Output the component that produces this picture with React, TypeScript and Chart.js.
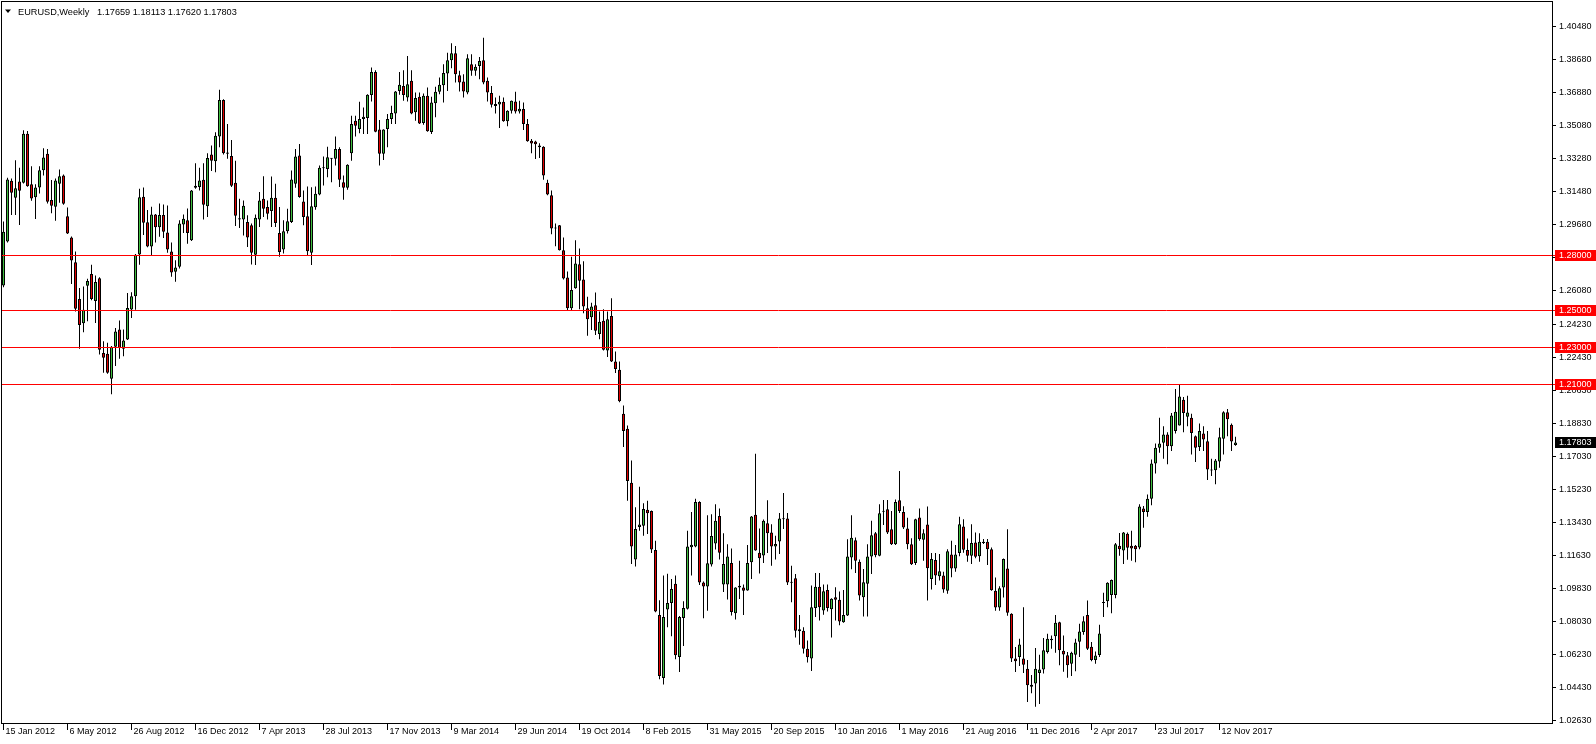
import React, { useEffect, useRef } from 'react';
import { Chart, registerables } from 'chart.js';

Chart.register(...registerables);

const SYMBOL = 'EURUSD';
const PERIOD = 'Weekly';

// Weekly candles, first candle = week of 15 Jan 2012 (index 0), last = week of 10 Dec 2017
const opens = [
  1.2635, 1.2874, 1.3205, 1.3113, 1.3202, 1.3194, 1.3462, 1.3187, 1.3115, 1.3169,
  1.3263, 1.3353, 1.3100, 1.3064, 1.3189, 1.3234, 1.3012, 1.2896, 1.2762, 1.2561,
  1.2429, 1.2634, 1.2697, 1.2550, 1.2675, 1.2268, 1.2263, 1.2127, 1.2301, 1.2395,
  1.2290, 1.2341, 1.2504, 1.2576, 1.2804, 1.3118, 1.2979, 1.2847, 1.3022, 1.2952,
  1.3019, 1.2923, 1.2820, 1.2710, 1.2737, 1.2967, 1.2990, 1.2881, 1.3167, 1.3171,
  1.3211, 1.3066, 1.3348, 1.3312, 1.3446, 1.3646, 1.3359, 1.3341, 1.3194, 1.3001,
  1.2994, 1.2981, 1.2963, 1.2802, 1.2995, 1.3107, 1.3062, 1.3041, 1.3113, 1.2921,
  1.2831, 1.2930, 1.2981, 1.3189, 1.3343, 1.3093, 1.3012, 1.2813, 1.3061, 1.3131,
  1.3273, 1.3270, 1.3328, 1.3325, 1.3379, 1.3198, 1.3167, 1.3355, 1.3532, 1.3487,
  1.3542, 1.3547, 1.3672, 1.3798, 1.3484, 1.3352, 1.3487, 1.3542, 1.3572, 1.3695,
  1.3722, 1.3659, 1.3750, 1.3579, 1.3663, 1.3520, 1.3668, 1.3471, 1.3627, 1.3690,
  1.3726, 1.3789, 1.3862, 1.3900, 1.3780, 1.3746, 1.3686, 1.3840, 1.3804, 1.3830,
  1.3862, 1.3750, 1.3683, 1.3613, 1.3621, 1.3636, 1.3529, 1.3587, 1.3637, 1.3583,
  1.3596, 1.3514, 1.3424, 1.3419, 1.3397, 1.3391, 1.3194, 1.3126, 1.2948, 1.2963,
  1.2827, 1.2679, 1.2511, 1.2620, 1.2751, 1.2668, 1.2511, 1.2462, 1.2527, 1.2371,
  1.2443, 1.2281, 1.2469, 1.2221, 1.2176, 1.1936, 1.1855, 1.1561, 1.1143, 1.1320,
  1.1326, 1.1413, 1.1407, 1.1195, 1.0841, 1.0497, 1.0870, 1.0906, 1.1010, 1.0612,
  1.0824, 1.0875, 1.1210, 1.1214, 1.1456, 1.1018, 1.0995, 1.1115, 1.1230, 1.1380,
  1.1007, 1.1007, 1.1123, 1.0850, 1.0990, 1.0990, 1.0974, 1.1127, 1.1387, 1.1179,
  1.1165, 1.1340, 1.1290, 1.1214, 1.1240, 1.1362, 1.1366, 1.1021, 1.1040, 1.0752,
  1.0754, 1.0657, 1.0603, 1.0878, 1.0994, 1.0865, 1.0977, 1.0871, 1.0937, 1.0923,
  1.0801, 1.0837, 1.1154, 1.1248, 1.1130, 1.0937, 1.1010, 1.1159, 1.1286, 1.1163,
  1.1403, 1.1416, 1.1307, 1.1226, 1.1465, 1.1402, 1.1311, 1.1226, 1.1123, 1.1371,
  1.1250, 1.1333, 1.1037, 1.1140, 1.1052, 1.1055, 1.0973, 1.1170, 1.1094, 1.1178,
  1.1323, 1.1194, 1.1163, 1.1235, 1.1160, 1.1232, 1.1239, 1.1199, 1.0973, 1.0881,
  1.0990, 1.1094, 1.0847, 1.0603, 1.0612, 1.0603, 1.0548, 1.0450, 1.0467, 1.0525,
  1.0543, 1.0639, 1.0703, 1.0725, 1.0801, 1.0646, 1.0621, 1.0575, 1.0624, 1.0694,
  1.0748, 1.0840, 1.0668, 1.0595, 1.0623, 1.0906, 1.0915, 1.0949, 1.0949, 1.1217,
  1.1192, 1.1283, 1.1217, 1.1217, 1.1208, 1.1420, 1.1402, 1.1474, 1.1666, 1.1751,
  1.1778, 1.1824, 1.1760, 1.1843, 1.1872, 1.2013, 1.1920, 1.1914, 1.1814, 1.1756,
  1.1829, 1.1787, 1.1631, 1.1629, 1.1677, 1.1800, 1.1944, 1.1876, 1.17659,
];

const highs = [
  1.2983, 1.3222, 1.3218, 1.3317, 1.3277, 1.3480, 1.3476, 1.3285, 1.3187, 1.3285,
  1.3382, 1.3379, 1.3209, 1.3218, 1.3267, 1.3240, 1.3060, 1.2902, 1.2820, 1.2621,
  1.2630, 1.2672, 1.2748, 1.2690, 1.2680, 1.2332, 1.2323, 1.2305, 1.2404, 1.2445,
  1.2395, 1.2594, 1.2598, 1.2806, 1.3162, 1.3169, 1.3046, 1.3064, 1.3025, 1.3082,
  1.3076, 1.3071, 1.2869, 1.2773, 1.2990, 1.3022, 1.3055, 1.3155, 1.3301, 1.3276,
  1.3301, 1.3355, 1.3397, 1.3469, 1.3701, 1.3650, 1.3514, 1.3428, 1.3315, 1.3107,
  1.3098, 1.3017, 1.2972, 1.3022, 1.3144, 1.3230, 1.3098, 1.3229, 1.3189, 1.3062,
  1.2990, 1.3053, 1.3261, 1.3379, 1.3406, 1.3153, 1.3174, 1.3170, 1.3174, 1.3288,
  1.3337, 1.3391, 1.3330, 1.3446, 1.3388, 1.3234, 1.3295, 1.3560, 1.3560, 1.3636,
  1.3605, 1.3676, 1.3822, 1.3807, 1.3536, 1.3486, 1.3569, 1.3614, 1.3694, 1.3798,
  1.3807, 1.3885, 1.3807, 1.3686, 1.3686, 1.3681, 1.3713, 1.3663, 1.3717, 1.3768,
  1.3840, 1.3903, 1.3954, 1.3939, 1.3804, 1.3786, 1.3894, 1.3894, 1.3840, 1.3880,
  1.3985, 1.3768, 1.3722, 1.3659, 1.3668, 1.3659, 1.3590, 1.3643, 1.3690, 1.3641,
  1.3632, 1.3542, 1.3433, 1.3424, 1.3410, 1.3393, 1.3211, 1.3153, 1.2972, 1.2965,
  1.2896, 1.2711, 1.2791, 1.2881, 1.2836, 1.2767, 1.2574, 1.2541, 1.2597, 1.2493,
  1.2505, 1.2493, 1.2565, 1.2275, 1.2221, 1.1981, 1.1872, 1.1682, 1.1427, 1.1539,
  1.1449, 1.1462, 1.1410, 1.1245, 1.0920, 1.1055, 1.1065, 1.1037, 1.1055, 1.0835,
  1.0915, 1.1299, 1.1402, 1.1474, 1.1460, 1.1023, 1.1384, 1.1389, 1.1444, 1.1420,
  1.1286, 1.1226, 1.1203, 1.0992, 1.1136, 1.1006, 1.1221, 1.1380, 1.1719, 1.1312,
  1.1360, 1.1465, 1.1335, 1.1272, 1.1396, 1.1505, 1.1396, 1.1109, 1.1064, 1.0841,
  1.0774, 1.0702, 1.1001, 1.1069, 1.1069, 1.1006, 1.1006, 1.0932, 1.0992, 1.0968,
  1.0977, 1.1253, 1.1384, 1.1263, 1.1142, 1.1091, 1.1226, 1.1353, 1.1293, 1.1443,
  1.1467, 1.1467, 1.1407, 1.1470, 1.1624, 1.1433, 1.1370, 1.1258, 1.1365, 1.1420,
  1.1307, 1.1431, 1.1178, 1.1178, 1.1172, 1.1076, 1.1199, 1.1245, 1.1221, 1.1375,
  1.1362, 1.1257, 1.1335, 1.1290, 1.1286, 1.1254, 1.1254, 1.1208, 1.1045, 1.0997,
  1.1148, 1.1307, 1.0850, 1.0666, 1.0711, 1.0883, 1.0595, 1.0513, 1.0661, 1.0624,
  1.0715, 1.0738, 1.0729, 1.0841, 1.0803, 1.0729, 1.0639, 1.0640, 1.0711, 1.0792,
  1.0834, 1.0919, 1.0693, 1.0642, 1.0787, 1.0961, 1.1019, 1.1034, 1.1233, 1.1287,
  1.1292, 1.1290, 1.1299, 1.1221, 1.1443, 1.1434, 1.1497, 1.1687, 1.1774, 1.1914,
  1.1869, 1.1836, 1.1941, 1.2071, 1.2095, 1.2028, 1.2035, 1.1936, 1.1818, 1.1883,
  1.1869, 1.1842, 1.1692, 1.1690, 1.1860, 1.1950, 1.1963, 1.1883, 1.18113,
];

const lows = [
  1.2625, 1.2869, 1.3019, 1.3019, 1.2965, 1.3190, 1.3173, 1.3097, 1.2997, 1.3136,
  1.3234, 1.3082, 1.3028, 1.2988, 1.3086, 1.3075, 1.2915, 1.2643, 1.2494, 1.2290,
  1.2380, 1.2440, 1.2555, 1.2431, 1.2259, 1.2160, 1.2155, 1.2042, 1.2196, 1.2236,
  1.2250, 1.2338, 1.2458, 1.2503, 1.2748, 1.2910, 1.2843, 1.2798, 1.2869, 1.2901,
  1.2894, 1.2813, 1.2682, 1.2655, 1.2728, 1.2921, 1.2863, 1.2878, 1.3162, 1.3153,
  1.2994, 1.3008, 1.3258, 1.3252, 1.3388, 1.3348, 1.3325, 1.3171, 1.2959, 1.2948,
  1.2907, 1.2845, 1.2749, 1.2746, 1.2954, 1.3008, 1.2994, 1.2954, 1.2954, 1.2791,
  1.2809, 1.2918, 1.2975, 1.3167, 1.3113, 1.2963, 1.2800, 1.2746, 1.3048, 1.3126,
  1.3180, 1.3225, 1.3198, 1.3288, 1.3171, 1.3102, 1.3156, 1.3315, 1.3446, 1.3464,
  1.3460, 1.3460, 1.3637, 1.3470, 1.3288, 1.3319, 1.3388, 1.3514, 1.3514, 1.3674,
  1.3641, 1.3637, 1.3568, 1.3532, 1.3515, 1.3511, 1.3472, 1.3460, 1.3551, 1.3677,
  1.3632, 1.3695, 1.3818, 1.3740, 1.3692, 1.3659, 1.3677, 1.3777, 1.3777, 1.3759,
  1.3731, 1.3637, 1.3605, 1.3572, 1.3493, 1.3527, 1.3502, 1.3572, 1.3572, 1.3572,
  1.3482, 1.3418, 1.3355, 1.3324, 1.3330, 1.3211, 1.3126, 1.2914, 1.2849, 1.2825,
  1.2668, 1.2502, 1.2502, 1.2617, 1.2505, 1.2484, 1.2361, 1.2393, 1.2366, 1.2342,
  1.2281, 1.2245, 1.2219, 1.2158, 1.1999, 1.1756, 1.1462, 1.1118, 1.1105, 1.1299,
  1.1272, 1.1281, 1.1178, 1.0855, 1.0490, 1.0462, 1.0774, 1.0725, 1.0599, 1.0530,
  1.0672, 1.0870, 1.1056, 1.1210, 1.1004, 1.0823, 1.0863, 1.1104, 1.1197, 1.1143,
  1.0965, 1.0925, 1.0838, 1.0816, 1.0928, 1.0841, 1.0972, 1.1037, 1.1190, 1.1066,
  1.1123, 1.1178, 1.1109, 1.1142, 1.1173, 1.1309, 1.1004, 1.0910, 1.0718, 1.0678,
  1.0630, 1.0581, 1.0536, 1.0829, 1.0811, 1.0842, 1.0860, 1.0718, 1.0811, 1.0784,
  1.0798, 1.0835, 1.1090, 1.1069, 1.0919, 1.0832, 1.0832, 1.1064, 1.1155, 1.1160,
  1.1330, 1.1281, 1.1221, 1.1221, 1.1396, 1.1309, 1.1199, 1.1113, 1.1113, 1.1245,
  1.1136, 1.0919, 1.0979, 1.1004, 1.1028, 1.0961, 1.0956, 1.1046, 1.1076, 1.1161,
  1.1179, 1.1131, 1.1118, 1.1149, 1.1131, 1.1227, 1.1113, 1.0973, 1.0863, 1.0863,
  1.0936, 1.0836, 1.0585, 1.0530, 1.0562, 1.0525, 1.0367, 1.0414, 1.0340, 1.0355,
  1.0522, 1.0630, 1.0657, 1.0635, 1.0567, 1.0531, 1.0498, 1.0508, 1.0534, 1.0612,
  1.0733, 1.0650, 1.0588, 1.0575, 1.0612, 1.0829, 1.0883, 1.0850, 1.0932, 1.1163,
  1.1118, 1.1141, 1.1136, 1.1127, 1.1199, 1.1316, 1.1376, 1.1438, 1.1611, 1.1724,
  1.1692, 1.1661, 1.1733, 1.1829, 1.1872, 1.1836, 1.1869, 1.1715, 1.1674, 1.1733,
  1.1733, 1.1575, 1.1597, 1.1552, 1.1643, 1.1715, 1.1814, 1.1733, 1.17620,
];

const closes = [
  1.2928, 1.3212, 1.3140, 1.3164, 1.3151, 1.3462, 1.3176, 1.3109, 1.3169, 1.3263,
  1.3332, 1.3091, 1.3069, 1.3207, 1.3230, 1.3080, 1.2918, 1.2771, 1.2509, 1.2420,
  1.2503, 1.2659, 1.2561, 1.2654, 1.2285, 1.2241, 1.2160, 1.2301, 1.2384, 1.2295,
  1.2335, 1.2512, 1.2576, 1.2802, 1.3115, 1.2977, 1.2847, 1.3022, 1.2952, 1.3019,
  1.2928, 1.2831, 1.2706, 1.2733, 1.2972, 1.2999, 1.2921, 1.3153, 1.3178, 1.3207,
  1.3075, 1.3330, 1.3315, 1.3451, 1.3646, 1.3355, 1.3352, 1.3178, 1.3015, 1.2994,
  1.3069, 1.2896, 1.2813, 1.3004, 1.3098, 1.3053, 1.3026, 1.3113, 1.2975, 1.2818,
  1.2930, 1.2985, 1.3212, 1.3337, 1.3117, 1.3008, 1.2822, 1.3066, 1.3135, 1.3276,
  1.3276, 1.3334, 1.3325, 1.3379, 1.3211, 1.3167, 1.3292, 1.3514, 1.3505, 1.3542,
  1.3554, 1.3674, 1.3798, 1.3473, 1.3352, 1.3484, 1.3542, 1.3574, 1.3692, 1.3728,
  1.3672, 1.3731, 1.3572, 1.3656, 1.3518, 1.3668, 1.3475, 1.3632, 1.3690, 1.3728,
  1.3793, 1.3862, 1.3900, 1.3786, 1.3740, 1.3692, 1.3873, 1.3804, 1.3826, 1.3858,
  1.3741, 1.3686, 1.3619, 1.3623, 1.3636, 1.3529, 1.3587, 1.3641, 1.3583, 1.3598,
  1.3514, 1.3420, 1.3409, 1.3404, 1.3388, 1.3234, 1.3131, 1.2945, 1.2945, 1.2827,
  1.2673, 1.2511, 1.2610, 1.2755, 1.2661, 1.2520, 1.2451, 1.2520, 1.2389, 1.2438,
  1.2285, 1.2451, 1.2221, 1.2180, 1.2004, 1.1843, 1.1570, 1.1214, 1.1309, 1.1333,
  1.1418, 1.1395, 1.1197, 1.0859, 1.0508, 1.0830, 1.0906, 1.0982, 1.0621, 1.0830,
  1.0879, 1.1214, 1.1223, 1.1456, 1.1018, 1.0995, 1.1122, 1.1270, 1.1353, 1.1179,
  1.1118, 1.1159, 1.0857, 1.0990, 1.0999, 1.0972, 1.1123, 1.1377, 1.1192, 1.1150,
  1.1353, 1.1286, 1.1214, 1.1227, 1.1366, 1.1366, 1.1018, 1.1016, 1.0754, 1.0763,
  1.0657, 1.0610, 1.0883, 1.0994, 1.0883, 1.0970, 1.0878, 1.0929, 1.0923, 1.0805,
  1.0841, 1.1159, 1.1261, 1.1136, 1.0946, 1.1019, 1.1159, 1.1275, 1.1166, 1.1394,
  1.1407, 1.1289, 1.1226, 1.1456, 1.1407, 1.1317, 1.1226, 1.1117, 1.1362, 1.1253,
  1.1286, 1.1095, 1.1145, 1.1055, 1.1079, 1.0979, 1.1188, 1.1094, 1.1170, 1.1334,
  1.1196, 1.1163, 1.1232, 1.1158, 1.1239, 1.1239, 1.1199, 1.0975, 1.0881, 1.0986,
  1.1145, 1.0852, 1.0603, 1.0588, 1.0679, 1.0570, 1.0458, 1.0461, 1.0548, 1.0543,
  1.0648, 1.0711, 1.0711, 1.0798, 1.0648, 1.0625, 1.0567, 1.0635, 1.0690, 1.0750,
  1.0806, 1.0657, 1.0595, 1.0620, 1.0740, 1.0910, 1.1016, 1.1031, 1.1226, 1.1199,
  1.1290, 1.1206, 1.1203, 1.1199, 1.1431, 1.1402, 1.1474, 1.1666, 1.1751, 1.1774,
  1.1824, 1.1760, 1.1927, 1.1947, 1.2031, 1.1940, 1.1943, 1.1832, 1.1751, 1.1842,
  1.1796, 1.1633, 1.1627, 1.1682, 1.1809, 1.1944, 1.1907, 1.1785, 1.17803,
];

// Time axis labels (every 16 weeks)
const xTickIndex = [0, 16, 32, 48, 64, 80, 96, 112, 128, 144, 160, 176, 192, 208, 224, 240, 256, 272, 288, 304];
const xTickLabels = [
  '15 Jan 2012', '6 May 2012', '26 Aug 2012', '16 Dec 2012', '7 Apr 2013', '28 Jul 2013',
  '17 Nov 2013', '9 Mar 2014', '29 Jun 2014', '19 Oct 2014', '8 Feb 2015', '31 May 2015',
  '20 Sep 2015', '10 Jan 2016', '1 May 2016', '21 Aug 2016', '11 Dec 2016', '2 Apr 2017',
  '23 Jul 2017', '12 Nov 2017',
];

// Price axis labels
const yTicks = [
  1.02630, 1.04430, 1.06230, 1.08030, 1.09830, 1.11630, 1.13430, 1.15230, 1.17030, 1.18830,
  1.20630, 1.22430, 1.24230, 1.26080, 1.27880, 1.29680, 1.31480, 1.33280, 1.35080, 1.36880,
  1.38680, 1.40480,
];

// Horizontal price levels
const levelValues = [1.28, 1.25, 1.23, 1.21];

const Y_MIN = 1.02521;
const Y_MAX = 1.41791;
const X_MIN = -0.375;
const X_MAX = 387.125;

const FONT = '"Liberation Sans", Arial, sans-serif';
const BULL = '#3FBE3F';
const BEAR = '#E00000';
const LEVEL = '#FF0000';

const overlayPlugin = {
  id: 'mt4Overlay',
  afterDatasetsDraw(chart: any) {
    const { ctx, chartArea: a, scales } = chart;
    const y = scales.y;
    ctx.save();
    ctx.strokeStyle = LEVEL;
    ctx.lineWidth = 1;
    levelValues.forEach((v) => {
      const py = Math.round(y.getPixelForValue(v)) + 0.5;
      ctx.beginPath();
      ctx.moveTo(a.left, py);
      ctx.lineTo(a.right + 3, py);
      ctx.stroke();
    });
    ctx.restore();
  },
  afterDraw(chart: any) {
    const { ctx, chartArea: a, scales } = chart;
    const y = scales.y;
    ctx.save();
    // frame
    ctx.strokeStyle = '#000';
    ctx.lineWidth = 1;
    ctx.strokeRect(a.left - 0.5, a.top - 0.5, a.right - a.left + 1, a.bottom - a.top + 1);
    // price boxes on the axis
    ctx.font = `9px ${FONT}`;
    ctx.textBaseline = 'middle';
    ctx.textAlign = 'left';
    const box = (v: number, bg: string) => {
      const py = Math.round(y.getPixelForValue(v));
      ctx.fillStyle = bg;
      ctx.fillRect(a.right + 3, py - 5, chart.width - a.right - 3, 11);
      ctx.fillStyle = '#fff';
      ctx.fillText(v.toFixed(5), a.right + 7, py + 1);
    };
    levelValues.forEach((v) => box(v, LEVEL));
    const last = closes.length - 1;
    box(closes[last], '#000');
    // header
    ctx.fillStyle = '#000';
    ctx.beginPath();
    ctx.moveTo(5, 9.5);
    ctx.lineTo(11, 9.5);
    ctx.lineTo(8, 13);
    ctx.closePath();
    ctx.fill();
    ctx.font = `9.2px ${FONT}`;
    ctx.textBaseline = 'alphabetic';
    ctx.fillText(`${SYMBOL},${PERIOD}`, 18, 15);
    ctx.fillText(
      [opens[last], highs[last], lows[last], closes[last]].map((v) => v.toFixed(5)).join(' '),
      97,
      15,
    );
    ctx.restore();
  },
};

export default function App() {
  const ref = useRef<HTMLCanvasElement | null>(null);

  useEffect(() => {
    if (!ref.current) return;
    const bodyColors = opens.map((o, i) => (closes[i] >= o ? BULL : BEAR));
    const chart = new Chart(ref.current, {
      type: 'bar',
      data: {
        datasets: [
          {
            label: 'body',
            data: opens.map((o, i) => ({ x: i, y: [o, closes[i]] })) as any,
            backgroundColor: bodyColors,
            borderColor: '#000',
            borderWidth: 1,
            borderSkipped: false,
            barThickness: 3,
            minBarLength: 1,
            inflateAmount: 0,
            grouped: false,
            order: 0,
          } as any,
          {
            label: 'wick',
            data: lows.map((l, i) => ({ x: i, y: [l, highs[i]] })) as any,
            backgroundColor: '#000',
            borderWidth: 0,
            barThickness: 1,
            minBarLength: 1,
            inflateAmount: 0,
            grouped: false,
            order: 1,
          } as any,
        ],
      },
      options: {
        responsive: false,
        animation: false,
        devicePixelRatio: 1,
        events: [],
        layout: { padding: { left: 2, top: 2, right: 0, bottom: 0 } },
        plugins: { legend: { display: false }, tooltip: { enabled: false } },
        scales: {
          x: {
            type: 'linear',
            position: 'bottom',
            min: X_MIN,
            max: X_MAX,
            offset: false,
            afterBuildTicks: (s: any) => {
              s.ticks = xTickIndex.map((v) => ({ value: v }));
            },
            afterFit: (s: any) => {
              s.height = 21;
              s.paddingLeft = 0;
              s.paddingRight = 0;
            },
            border: { display: false },
            grid: { drawOnChartArea: false, drawTicks: true, tickLength: 7, color: '#000', offset: false },
            ticks: {
              align: 'start',
              autoSkip: false,
              maxRotation: 0,
              minRotation: 0,
              padding: -4,
              labelOffset: 2,
              color: '#000',
              font: { family: FONT, size: 9 },
              callback: (_v: any, idx: number) => xTickLabels[idx],
            },
          } as any,
          y: {
            type: 'linear',
            position: 'right',
            min: Y_MIN,
            max: Y_MAX,
            afterBuildTicks: (s: any) => {
              s.ticks = yTicks.map((v) => ({ value: v }));
            },
            afterFit: (s: any) => {
              s.width = 44;
              s.paddingTop = 0;
              s.paddingBottom = 0;
            },
            border: { display: false },
            grid: { drawOnChartArea: false, drawTicks: true, tickLength: 4, color: '#000' },
            ticks: {
              autoSkip: false,
              padding: 3,
              color: '#000',
              font: { family: FONT, size: 9 },
              callback: (v: any) => Number(v).toFixed(5),
            },
          } as any,
        },
      },
      plugins: [overlayPlugin],
    });
    return () => chart.destroy();
  }, []);

  return (
    <div style={{ position: 'fixed', left: 0, top: 0, width: 1596, height: 744, background: '#fff' }}>
      <canvas ref={ref} width={1596} height={744} style={{ display: 'block' }} />
    </div>
  );
}
